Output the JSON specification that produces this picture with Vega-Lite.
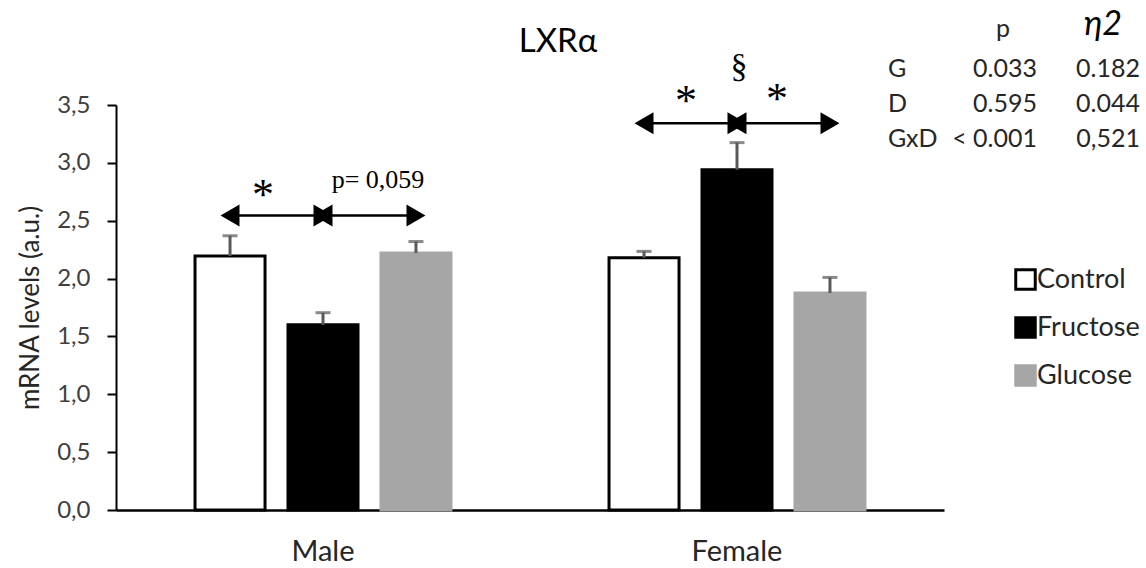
{
  "$schema": "https://vega.github.io/schema/vega-lite/v6.json",
  "width": 828,
  "height": 405,
  "autosize": {"type": "none"},
  "padding": {"left": 116, "top": 105, "right": 202, "bottom": 58},
  "background": "white",
  "config": {
    "view": {"stroke": null},
    "font": "Lato",
    "axisY": {
      "grid": false,
      "tickSize": 9, "tickWidth": 2, "tickColor": "#000000",
      "domainColor": "#000000", "domainWidth": 2,
      "labelFont": "Lato", "labelFontSize": 24, "labelColor": "#404040", "labelPadding": 17,
      "titleFont": "Lato", "titleFontSize": 26, "titleFontWeight": "normal", "titleColor": "#262626", "titlePadding": 13
    }
  },
  "datasets": {
    "bars": [
      {"sex": "Male", "treatment": "Control", "mean": 2.195, "upper": 2.37},
      {"sex": "Male", "treatment": "Fructose", "mean": 1.6, "upper": 1.705},
      {"sex": "Male", "treatment": "Glucose", "mean": 2.22, "upper": 2.32},
      {"sex": "Female", "treatment": "Control", "mean": 2.18, "upper": 2.235},
      {"sex": "Female", "treatment": "Fructose", "mean": 2.94, "upper": 3.175},
      {"sex": "Female", "treatment": "Glucose", "mean": 1.875, "upper": 2.01}
    ],
    "arrows": [
      {"sex": "Male", "treatment": "Control", "level": 2.545},
      {"sex": "Male", "treatment": "Glucose", "level": 2.545},
      {"sex": "Female", "treatment": "Control", "level": 3.342},
      {"sex": "Female", "treatment": "Glucose", "level": 3.342}
    ],
    "heads": [
      {"sex": "Male", "treatment": "Control", "level": 2.545, "head": "left-outer"},
      {"sex": "Male", "treatment": "Fructose", "level": 2.545, "head": "right-inner"},
      {"sex": "Male", "treatment": "Fructose", "level": 2.545, "head": "left-inner"},
      {"sex": "Male", "treatment": "Glucose", "level": 2.545, "head": "right-outer"},
      {"sex": "Female", "treatment": "Control", "level": 3.342, "head": "left-outer"},
      {"sex": "Female", "treatment": "Fructose", "level": 3.342, "head": "right-inner"},
      {"sex": "Female", "treatment": "Fructose", "level": 3.342, "head": "left-inner"},
      {"sex": "Female", "treatment": "Glucose", "level": 3.342, "head": "right-outer"}
    ],
    "notes": [
      {"id": "m1", "sex": "Male", "treatment": "Control", "level": 2.6, "label": "*"},
      {"id": "m2", "sex": "Male", "treatment": "Fructose", "level": 2.78, "label": "p= 0,059"},
      {"id": "f1", "sex": "Female", "treatment": "Control", "level": 3.41, "label": "*"},
      {"id": "f2", "sex": "Female", "treatment": "Fructose", "level": 3.74, "label": "§"},
      {"id": "f3", "sex": "Female", "treatment": "Glucose", "level": 3.43, "label": "*"}
    ],
    "titles": [
      {"sex": "Female", "treatment": "Control", "level": 3.958, "label": "LXRα"}
    ],
    "table": [
      {"sex": "Female", "treatment": "Fructose", "term": "G", "p": "0.033", "eta": "0.182", "level": 3.742},
      {"sex": "Female", "treatment": "Fructose", "term": "D", "p": "0.595", "eta": "0.044", "level": 3.44},
      {"sex": "Female", "treatment": "Fructose", "term": "GxD", "p": "< 0.001", "eta": "0,521", "level": 3.137}
    ],
    "header": [
      {"sex": "Female", "treatment": "Fructose", "col": "p", "label": "p", "level": 4.088},
      {"sex": "Female", "treatment": "Fructose", "col": "eta", "label": "η2", "level": 4.105}
    ]
  },
  "encoding": {
    "x": {
      "field": "sex", "type": "nominal", "sort": ["Male", "Female"],
      "scale": {"paddingInner": 0, "paddingOuter": 0},
      "axis": {"title": null, "labelAngle": 0, "labelFont": "Lato", "labelFontSize": 29, "labelColor": "#262626", "labelPadding": 27, "ticks": false, "domainColor": "#000000", "domainWidth": 2.5}
    },
    "xOffset": {
      "field": "treatment", "type": "nominal", "sort": ["Control", "Fructose", "Glucose"],
      "scale": {"paddingInner": 0.247, "paddingOuter": 0.85}
    }
  },
  "layer": [
    {
      "data": {"name": "bars"},
      "mark": {"type": "bar", "strokeWidth": 3},
      "encoding": {
        "y": {
          "field": "mean", "type": "quantitative", "title": "mRNA levels (a.u.)",
          "scale": {"domain": [0, 3.5], "nice": false, "zero": true},
          "axis": {
            "values": [0, 0.5, 1, 1.5, 2, 2.5, 3, 3.5],
            "labelExpr": "replace(format(datum.value, '.1f'), '.', ',')"
          }
        },
        "fill": {
          "field": "treatment", "type": "nominal", "sort": ["Control", "Fructose", "Glucose"],
          "scale": {"domain": ["Control", "Fructose", "Glucose"], "range": ["#ffffff", "#000000", "#a6a6a6"]},
          "legend": {
            "title": null, "orient": "none", "legendX": 896, "legendY": 161,
            "symbolType": "square", "symbolSize": 380, "symbolStrokeWidth": 3,
            "labelFont": "Lato", "labelFontSize": 27, "labelColor": "#262626", "labelOffset": -2, "rowPadding": 15
          }
        },
        "stroke": {
          "field": "treatment", "type": "nominal", "sort": ["Control", "Fructose", "Glucose"],
          "scale": {"domain": ["Control", "Fructose", "Glucose"], "range": ["#000000", "#000000", "#a6a6a6"]},
          "legend": {
            "title": null, "orient": "none", "legendX": 896, "legendY": 161,
            "symbolType": "square", "symbolSize": 380, "symbolStrokeWidth": 3,
            "labelFont": "Lato", "labelFontSize": 27, "labelColor": "#262626", "labelOffset": -2, "rowPadding": 15
          }
        }
      }
    },
    {
      "data": {"name": "bars"},
      "mark": {"type": "rule", "color": "#595959", "strokeWidth": 3},
      "encoding": {
        "y": {"field": "mean", "type": "quantitative", "title": "mRNA levels (a.u.)"},
        "y2": {"field": "upper"}
      }
    },
    {
      "data": {"name": "bars"},
      "mark": {"type": "tick", "color": "#595959", "thickness": 3, "size": 15},
      "encoding": {
        "y": {"field": "upper", "type": "quantitative", "title": "mRNA levels (a.u.)"}
      }
    },
    {
      "data": {"name": "arrows"},
      "mark": {"type": "line", "color": "#000000", "strokeWidth": 2.5},
      "encoding": {
        "y": {"field": "level", "type": "quantitative", "title": "mRNA levels (a.u.)"},
        "detail": {"field": "sex"}
      }
    },
    {
      "data": {"name": "heads"},
      "transform": [{"filter": "datum.head === 'left-outer'"}],
      "mark": {"type": "point", "shape": "triangle-left", "filled": true, "color": "#000000", "opacity": 1, "size": 480, "dx": -4},
      "encoding": {"y": {"field": "level", "type": "quantitative", "title": "mRNA levels (a.u.)"}}
    },
    {
      "data": {"name": "heads"},
      "transform": [{"filter": "datum.head === 'right-inner'"}],
      "mark": {"type": "point", "shape": "triangle-right", "filled": true, "color": "#000000", "opacity": 1, "size": 480, "dx": -12},
      "encoding": {"y": {"field": "level", "type": "quantitative", "title": "mRNA levels (a.u.)"}}
    },
    {
      "data": {"name": "heads"},
      "transform": [{"filter": "datum.head === 'left-inner'"}],
      "mark": {"type": "point", "shape": "triangle-left", "filled": true, "color": "#000000", "opacity": 1, "size": 480, "dx": 10},
      "encoding": {"y": {"field": "level", "type": "quantitative", "title": "mRNA levels (a.u.)"}}
    },
    {
      "data": {"name": "heads"},
      "transform": [{"filter": "datum.head === 'right-outer'"}],
      "mark": {"type": "point", "shape": "triangle-right", "filled": true, "color": "#000000", "opacity": 1, "size": 480, "dx": 3},
      "encoding": {"y": {"field": "level", "type": "quantitative", "title": "mRNA levels (a.u.)"}}
    },
    {
      "data": {"name": "notes"},
      "transform": [{"filter": "datum.id === 'm1'"}],
      "mark": {"type": "text", "font": "Liberation Serif", "fontSize": 44, "baseline": "alphabetic", "align": "center", "dx": 33, "color": "#000000"},
      "encoding": {"y": {"field": "level", "type": "quantitative", "title": "mRNA levels (a.u.)"}, "text": {"field": "label"}}
    },
    {
      "data": {"name": "notes"},
      "transform": [{"filter": "datum.id === 'm2'"}],
      "mark": {"type": "text", "font": "Liberation Serif", "fontSize": 26, "baseline": "alphabetic", "align": "center", "dx": 55, "color": "#000000"},
      "encoding": {"y": {"field": "level", "type": "quantitative", "title": "mRNA levels (a.u.)"}, "text": {"field": "label"}}
    },
    {
      "data": {"name": "notes"},
      "transform": [{"filter": "datum.id === 'f1'"}],
      "mark": {"type": "text", "font": "Liberation Serif", "fontSize": 44, "baseline": "alphabetic", "align": "center", "dx": 42, "color": "#000000"},
      "encoding": {"y": {"field": "level", "type": "quantitative", "title": "mRNA levels (a.u.)"}, "text": {"field": "label"}}
    },
    {
      "data": {"name": "notes"},
      "transform": [{"filter": "datum.id === 'f2'"}],
      "mark": {"type": "text", "font": "Liberation Serif", "fontSize": 34, "baseline": "alphabetic", "align": "center", "dx": 2, "color": "#000000"},
      "encoding": {"y": {"field": "level", "type": "quantitative", "title": "mRNA levels (a.u.)"}, "text": {"field": "label"}}
    },
    {
      "data": {"name": "notes"},
      "transform": [{"filter": "datum.id === 'f3'"}],
      "mark": {"type": "text", "font": "Liberation Serif", "fontSize": 44, "baseline": "alphabetic", "align": "center", "dx": -53, "color": "#000000"},
      "encoding": {"y": {"field": "level", "type": "quantitative", "title": "mRNA levels (a.u.)"}, "text": {"field": "label"}}
    },
    {
      "data": {"name": "titles"},
      "mark": {"type": "text", "font": "Lato", "fontSize": 33, "baseline": "alphabetic", "align": "center", "dx": -86, "color": "#000000"},
      "encoding": {"y": {"field": "level", "type": "quantitative", "title": "mRNA levels (a.u.)"}, "text": {"field": "label"}}
    },
    {
      "data": {"name": "table"},
      "mark": {"type": "text", "font": "Lato", "fontSize": 25, "baseline": "alphabetic", "align": "left", "dx": 151, "color": "#262626"},
      "encoding": {"y": {"field": "level", "type": "quantitative", "title": "mRNA levels (a.u.)"}, "text": {"field": "term"}}
    },
    {
      "data": {"name": "table"},
      "mark": {"type": "text", "font": "Lato", "fontSize": 25, "baseline": "alphabetic", "align": "right", "dx": 300, "color": "#262626"},
      "encoding": {"y": {"field": "level", "type": "quantitative", "title": "mRNA levels (a.u.)"}, "text": {"field": "p"}}
    },
    {
      "data": {"name": "table"},
      "mark": {"type": "text", "font": "Lato", "fontSize": 25, "baseline": "alphabetic", "align": "right", "dx": 403, "color": "#262626"},
      "encoding": {"y": {"field": "level", "type": "quantitative", "title": "mRNA levels (a.u.)"}, "text": {"field": "eta"}}
    },
    {
      "data": {"name": "header"},
      "transform": [{"filter": "datum.col === 'p'"}],
      "mark": {"type": "text", "font": "Lato", "fontSize": 25, "baseline": "alphabetic", "align": "center", "dx": 266, "color": "#262626"},
      "encoding": {"y": {"field": "level", "type": "quantitative", "title": "mRNA levels (a.u.)"}, "text": {"field": "label"}}
    },
    {
      "data": {"name": "header"},
      "transform": [{"filter": "datum.col === 'eta'"}],
      "mark": {"type": "text", "font": "Lato", "fontSize": 34, "fontStyle": "italic", "baseline": "alphabetic", "align": "center", "dx": 366, "color": "#000000"},
      "encoding": {"y": {"field": "level", "type": "quantitative", "title": "mRNA levels (a.u.)"}, "text": {"field": "label"}}
    }
  ]
}
